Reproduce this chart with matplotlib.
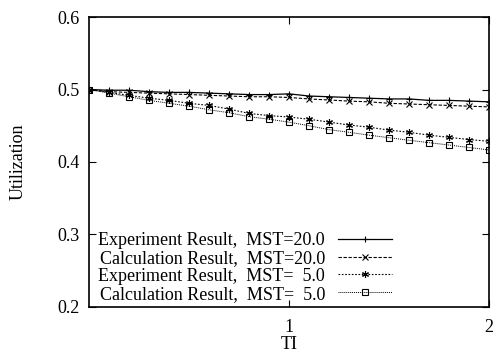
import matplotlib
matplotlib.use("Agg")
import matplotlib.pyplot as plt

# TI values 0.0 .. 2.0, step 0.1
ti = [0.0, 0.1, 0.2, 0.3, 0.4, 0.5, 0.6, 0.7, 0.8, 0.9, 1.0,
      1.1, 1.2, 1.3, 1.4, 1.5, 1.6, 1.7, 1.8, 1.9, 2.0]

exp_mst20 = [0.500, 0.499, 0.499, 0.497, 0.496, 0.496, 0.495, 0.494, 0.493, 0.493, 0.494,
             0.491, 0.490, 0.489, 0.488, 0.487, 0.487, 0.485, 0.485, 0.484, 0.483]
calc_mst20 = [0.500, 0.497, 0.496, 0.495, 0.494, 0.493, 0.492, 0.491, 0.490, 0.490, 0.489,
              0.487, 0.4855, 0.484, 0.483, 0.481, 0.480, 0.479, 0.478, 0.477, 0.476]
exp_mst5 = [0.500, 0.496, 0.492, 0.488, 0.485, 0.481, 0.478, 0.473, 0.467, 0.464, 0.462,
            0.459, 0.455, 0.451, 0.448, 0.444, 0.441, 0.437, 0.434, 0.431, 0.4285]
calc_mst5 = [0.500, 0.495, 0.490, 0.485, 0.481, 0.477, 0.472, 0.468, 0.4625, 0.459, 0.455,
             0.450, 0.4446, 0.441, 0.437, 0.4335, 0.430, 0.4267, 0.4234, 0.420, 0.4166]

labels = ["Experiment Result,  MST=20.0",
          "Calculation Result,  MST=20.0",
          "Experiment Result,  MST=  5.0",
          "Calculation Result,  MST=  5.0"]

y_ticks = [0.2, 0.3, 0.4, 0.5, 0.6]
x_ticks = [1, 2]

plt.rcParams['font.family'] = ['Liberation Serif', 'DejaVu Serif']

fig = plt.figure(figsize=(4.93, 3.58), dpi=100)
ax = fig.add_axes([0.1805, 0.1425, 0.8115, 0.81])

# one line per series
ax.plot(ti, exp_mst20, color='black', lw=0.9, linestyle='-',
        marker='+', ms=5, mew=0.8, label=labels[0])
ax.plot(ti, calc_mst20, color='black', lw=0.8, linestyle=(0, (3, 1.5)),
        marker='x', ms=4, mew=0.8, label=labels[1])
ax.plot(ti, exp_mst5, color='black', lw=0.8, linestyle=(0, (1.5, 1.5)),
        marker=(6, 2, 0), ms=5, mew=0.8, label=labels[2])
ax.plot(ti, calc_mst5, color='black', lw=0.7, linestyle=(0, (1, 1)),
        marker='s', ms=4, mfc='none', mew=0.8, label=labels[3])

ax.set_xlim(0, 2)
ax.set_ylim(0.2, 0.6)
ax.set_xticks(x_ticks)
ax.set_xticklabels([str(t) for t in x_ticks])
ax.set_yticks(y_ticks)
ax.set_yticklabels(['%.1f' % t for t in y_ticks])
ax.tick_params(direction='in', top=True, right=True, length=5, width=0.8,
               labelsize=13, pad=7)
ax.tick_params(axis='x', pad=9)
for s in ax.spines.values():
    s.set_linewidth(1.2)

ax.set_xlabel('TI', fontsize=13, labelpad=0)
ax.set_ylabel('Utilization', fontsize=13, labelpad=22)

leg = ax.legend(loc='lower left', bbox_to_anchor=(0.005, -0.01), frameon=False,
                markerfirst=False, fontsize=13, handlelength=3.0,
                labelspacing=0.05, handletextpad=0.7, borderaxespad=0.0)

fig.savefig('out.png', dpi=100)
